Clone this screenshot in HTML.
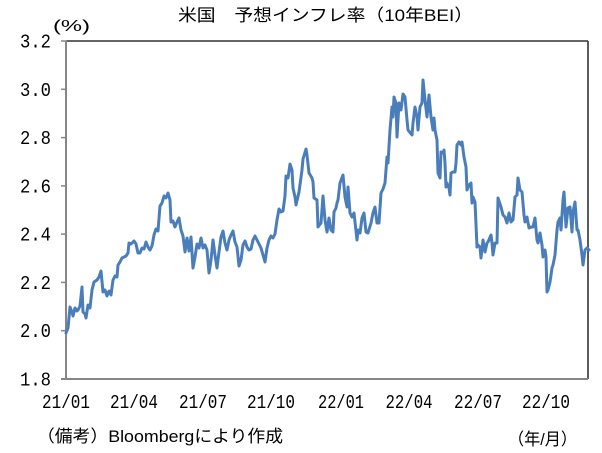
<!DOCTYPE html>
<html><head><meta charset="utf-8"><style>
html,body{margin:0;padding:0;background:#fff;}
svg{display:block;}
text{fill:#000;}
</style></head><body>
<svg width="602" height="453" viewBox="0 0 602 453" xmlns="http://www.w3.org/2000/svg">
<rect width="602" height="453" fill="#fff"/>
<!-- title -->
<text x="325.5" y="21" font-family="Liberation Sans, Noto Sans CJK JP, sans-serif" font-size="17" text-anchor="middle" textLength="295" lengthAdjust="spacingAndGlyphs">米国　予想インフレ率（10年BEI）</text>
<text x="71.5" y="31" font-family="Liberation Sans, Noto Sans CJK JP, sans-serif" font-size="16" text-anchor="middle" textLength="37" lengthAdjust="spacingAndGlyphs">(%)</text>
<!-- frame -->
<line x1="66" y1="41" x2="588" y2="41" stroke="#333" stroke-width="1.6"/>
<line x1="588" y1="41" x2="588" y2="379" stroke="#333" stroke-width="1.6"/>
<line x1="66" y1="40.5" x2="66" y2="379" stroke="#868686" stroke-width="2"/>
<line x1="61" y1="379" x2="588" y2="379" stroke="#868686" stroke-width="2"/>
<g stroke="#868686" stroke-width="1.5">
<line x1="61" y1="41" x2="66" y2="41"/>
<line x1="61" y1="89.3" x2="66" y2="89.3"/>
<line x1="61" y1="137.6" x2="66" y2="137.6"/>
<line x1="61" y1="185.9" x2="66" y2="185.9"/>
<line x1="61" y1="234.1" x2="66" y2="234.1"/>
<line x1="61" y1="282.4" x2="66" y2="282.4"/>
<line x1="61" y1="330.7" x2="66" y2="330.7"/>
</g>
<!-- y labels -->
<g font-family="Liberation Mono, monospace" font-size="19" text-anchor="end">
<text x="51" y="47.5" textLength="31" lengthAdjust="spacingAndGlyphs">3.2</text>
<text x="51" y="95.8" textLength="31" lengthAdjust="spacingAndGlyphs">3.0</text>
<text x="51" y="144.1" textLength="31" lengthAdjust="spacingAndGlyphs">2.8</text>
<text x="51" y="192.4" textLength="31" lengthAdjust="spacingAndGlyphs">2.6</text>
<text x="51" y="240.6" textLength="31" lengthAdjust="spacingAndGlyphs">2.4</text>
<text x="51" y="288.9" textLength="31" lengthAdjust="spacingAndGlyphs">2.2</text>
<text x="51" y="337.2" textLength="31" lengthAdjust="spacingAndGlyphs">2.0</text>
<text x="51" y="385.5" textLength="31" lengthAdjust="spacingAndGlyphs">1.8</text>
</g>
<!-- x labels -->
<g font-family="Liberation Mono, monospace" font-size="19" text-anchor="middle">
<text x="66" y="408" textLength="48" lengthAdjust="spacingAndGlyphs">21/01</text>
<text x="134" y="408" textLength="48" lengthAdjust="spacingAndGlyphs">21/04</text>
<text x="203" y="408" textLength="48" lengthAdjust="spacingAndGlyphs">21/07</text>
<text x="271" y="408" textLength="48" lengthAdjust="spacingAndGlyphs">21/10</text>
<text x="341" y="408" textLength="46" lengthAdjust="spacingAndGlyphs">22/01</text>
<text x="409" y="408" textLength="47" lengthAdjust="spacingAndGlyphs">22/04</text>
<text x="478" y="408" textLength="48" lengthAdjust="spacingAndGlyphs">22/07</text>
<text x="546" y="408" textLength="48" lengthAdjust="spacingAndGlyphs">22/10</text>
</g>
<text x="37" y="442" font-family="Liberation Sans, Noto Sans CJK JP, sans-serif" font-size="17" textLength="246" lengthAdjust="spacingAndGlyphs">（備考）Bloombergにより作成</text>
<text x="508" y="445" font-family="Liberation Sans, Noto Sans CJK JP, sans-serif" font-size="17" textLength="69" lengthAdjust="spacingAndGlyphs">（年/月）</text>
<!-- series -->
<polyline fill="none" stroke="#4a7ebb" stroke-width="3" stroke-linejoin="round" stroke-linecap="round" points="
66,333 68,328 70,307 72,312 73,316 75,308 77,311 78,310 80,306 82,287 83,312 85,314 86,318 88,305 90,308 92,290 94,282 97,280 99,277 101,271 103,292 105,290 107,296 109,291 111,295 113,280 115,276 117,277 118,265 120,262 122,258 124,257 126,256 128,253 129,243 131,244 134,241 136,244 138,253 140,253 142,248 144,249 146,242 148,247 150,250 152,246 154,235 156,229 158,231 160,206 162,203 164,196 166,198 168,193 170,200 171,222 173,221 175,227 177,222 179,218 181,230 183,236 185,252 187,238 189,251 191,237 193,268 195,257 197,244 199,248 201,238 203,248 205,245 207,250 209,273 211,260 213,240 215,255 217,268 219,252 221,237 223,231 225,243 227,250 229,240 231,235 233,231 235,242 237,247 239,266 241,260 243,245 245,241 247,247 249,250 251,249 253,240 255,236 257,240 259,244
261,248 263,255 265,262 267,248 269,240 271,236 273,238 275,234 277,220 279,209 281,212 283,211 285,196 286,176 288,178 290,164 292,170 293,188 295,197 296,205 299,192 302,170 303,159 306,149 307,155 309,173 312,178 313,182 314,198 317,200 318,227 321,223 323,196 325,220 327,232 329,218 331,230 333,232 334,212 336,208 337,203 338,200 340,183 343,175 345,197 347,207 348,187 350,213 352,217 354,213 357,240 358,230 360,233 362,218 364,213 366,232 368,233 371,223 373,213 375,207 377,223 379,223 381,193 383,189 385,183 387,157 388,163 390,130 392,107 393,117 394,97 396,103 397,137 399,103 401,110 403,94 405,97 407,120 408,130 412,135 413,123 415,107 417,117 418,130 420,107 422,103 423,80 425,100 427,117 429,95 431,117 433,130 434,118 435,130 437,140 438,173 440,178 441,152 443,153 444,150 445,163 446,187 447,183 449,188
450,195 451,173 453,172 455,172 456,163 457,145 459,142 461,145 462,142 464,157 466,167 467,190 469,185 471,183 472,203 473,197 475,202 477,247 478,245 480,247 481,258 483,240 485,252 487,243 488,242 491,235 492,243 493,255 495,243 497,243 498,198 501,207 503,215 505,217 507,223 509,213 511,222 513,220 515,197 517,195 518,178 520,190 522,192 524,215 525,222 527,217 529,228 531,227 533,227 535,218 537,240 538,243 540,233 542,245 543,257 545,250 546,257 547,292 548,290 550,282 552,268 553,265 555,255 557,230 558,222 560,218 561,230 563,200 564,192 566,227 568,208 570,207 572,232 573,212 575,202 577,230 578,230 580,240 582,255 583,265 585,250 587,248 589,250"/>
</svg>
</body></html>
